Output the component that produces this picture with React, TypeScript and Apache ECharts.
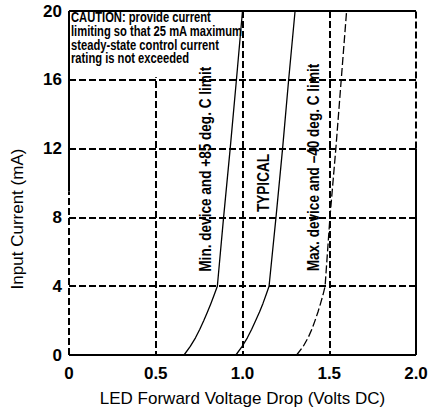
import React, { useEffect, useRef } from "react";
import * as echarts from "echarts";

// ---- data (Input current in mA vs LED forward voltage in volts) ----
const currentMA = [0, 0.5, 1, 1.5, 2, 2.5, 3, 3.5, 4, 6, 8, 12, 16, 20];
const minVolts = [0.663, 0.699, 0.729, 0.754, 0.777, 0.798, 0.818, 0.837, 0.855, 0.873, 0.891, 0.929, 0.965, 1.0];
const typVolts = [0.962, 0.998, 1.028, 1.053, 1.076, 1.098, 1.118, 1.136, 1.153, 1.173, 1.193, 1.231, 1.266, 1.303];
const maxVolts = [1.312, 1.35, 1.378, 1.4, 1.418, 1.435, 1.45, 1.464, 1.476, 1.49, 1.504, 1.538, 1.569, 1.6];

const xTickLabels = ["0", "0.5", "1.0", "1.5", "2.0"];
const yTickLabels = ["0", "4", "8", "12", "16", "20"];

const xTitle = "LED Forward Voltage Drop (Volts DC)";
const yTitle = "Input Current (mA)";
const caption = [
  "CAUTION: provide current",
  "limiting so that 25 mA maximum",
  "steady-state control current",
  "rating is not exceeded",
];
const curveLabels = [
  { text: "Min. device and +85 deg. C limit", at: [0.79, 10.8] },
  { text: "TYPICAL", at: [1.124, 10.0] },
  { text: "Max. device and \u201340 deg. C limit", at: [1.412, 10.9] },
];

// plot frame segments (data coordinates)
const frameSolid = [
  [[0, 20], [2, 20]],
  [[0, 0], [2, 0]],
  [[0, 9.5], [0, 20]],
  [[2, 0], [2, 12]],
];
const frameDashed = [
  [[0, 0], [0, 9.5]],
  [[2, 12], [2, 20]],
];
const captionBox = [[0, 20], [0.99, 16.15]];

const FONT = '"Liberation Sans", Arial, Helvetica, sans-serif';
const DASH = [7, 3];

export default function App() {
  const ref = useRef<HTMLDivElement>(null);
  useEffect(() => {
    const chart = echarts.init(ref.current!, null, { renderer: "svg" });
    const pair = (xs: number[]) => xs.map((x, i) => [x, currentMA[i]]);
    const frameSeries = [
      ...frameSolid.map((seg) => ({ seg, type: "solid" as any })),
      ...frameDashed.map((seg) => ({ seg, type: DASH as any })),
    ].map(({ seg, type }) => ({
      type: "line",
      data: seg,
      symbol: "none",
      silent: true,
      clip: false,
      z: 3,
      lineStyle: { color: "#000", width: 2, type },
    }));
    const curve = (name: string, xs: number[], type: any) => ({
      type: "line",
      name,
      data: pair(xs),
      symbol: "none",
      smooth: false,
      z: 4,
      lineStyle: { color: "#000", width: 1.3, type, join: "round" },
    });
    chart.setOption({
      animation: false,
      backgroundColor: "#fff",
      grid: { left: 69, right: 15, top: 11, bottom: 57 },
      xAxis: {
        type: "value",
        min: 0,
        max: 2,
        interval: 0.5,
        axisLine: { show: false },
        axisTick: { show: false },
        axisLabel: {
          margin: 10,
          color: "#000",
          fontSize: 17,
          fontWeight: "bold",
          fontFamily: FONT,
          formatter: (v: number) => xTickLabels[Math.round(v / 0.5)],
        },
        splitLine: {
          show: true,
          showMinLine: false,
          showMaxLine: false,
          lineStyle: { color: "#000", width: 2, type: DASH },
        },
        name: xTitle,
        nameLocation: "middle",
        nameGap: 35,
        nameTextStyle: { color: "#000", fontSize: 17, fontFamily: FONT },
      },
      yAxis: {
        type: "value",
        min: 0,
        max: 20,
        interval: 4,
        axisLine: { show: false },
        axisTick: { show: false },
        axisLabel: {
          margin: 7,
          color: "#000",
          fontSize: 17,
          fontWeight: "bold",
          fontFamily: FONT,
          formatter: (v: number) => yTickLabels[Math.round(v / 4)],
        },
        splitLine: {
          show: true,
          showMinLine: false,
          showMaxLine: false,
          lineStyle: { color: "#000", width: 2, type: DASH },
        },
      },
      series: [
        curve("Min", minVolts, "solid"),
        curve("Typical", typVolts, "solid"),
        curve("Max", maxVolts, [8, 3]),
        ...frameSeries,
      ],
    });

    const px = (p: number[]) => chart.convertToPixel({ gridIndex: 0 }, p) as number[];
    const b0 = px(captionBox[0]);
    const b1 = px(captionBox[1]);
    const graphics: any[] = [
      {
        type: "rect",
        z: 1,
        shape: { x: b0[0], y: b0[1], width: b1[0] - b0[0], height: b1[1] - b0[1] },
        style: { fill: "#fff" },
        silent: true,
      },
      {
        type: "text",
        z: 5,
        x: b0[0] + 2,
        y: b0[1],
        scaleX: 0.8,
        style: {
          text: caption.join("\n"),
          font: `bold 14px ${FONT}`,
          fill: "#000",
          align: "left",
          verticalAlign: "top",
          lineHeight: 13.7,
        },
      },
      {
        type: "text",
        z: 5,
        x: 17,
        y: 219,
        rotation: Math.PI / 2,
        style: {
          text: yTitle,
          font: `17px ${FONT}`,
          fill: "#000",
          align: "center",
          verticalAlign: "middle",
        },
      },
      ...curveLabels.map((l) => {
        const p = px(l.at);
        return {
          type: "text",
          z: 5,
          x: p[0],
          y: p[1],
          rotation: Math.PI / 2,
          scaleX: 0.85,
          style: {
            text: l.text,
            font: `bold 16px ${FONT}`,
            fill: "#000",
            align: "center",
            verticalAlign: "middle",
          },
        };
      }),
    ];
    chart.setOption({ graphic: graphics });
    return () => chart.dispose();
  }, []);
  return (
    <div
      ref={ref}
      style={{ position: "fixed", left: 0, top: 0, width: 431, height: 412 }}
    />
  );
}
